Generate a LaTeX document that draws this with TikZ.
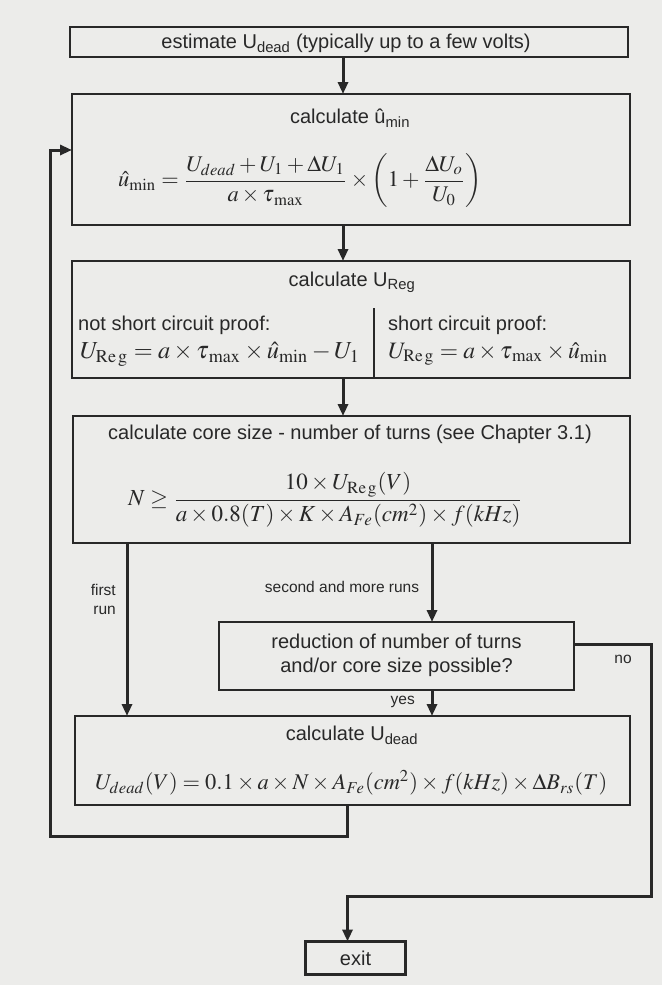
\documentclass[tikz,border=0pt]{standalone}
\usepackage{mathptmx}
\usepackage[no-math]{fontspec}
\setmainfont{Liberation Sans}
\usepackage{graphicx}
\usetikzlibrary{arrows.meta}
\definecolor{ink}{RGB}{40,40,40}
\definecolor{paper}{RGB}{236,236,234}
\tikzset{
  box/.style={draw=ink, line width=2.7pt, inner sep=0pt, outer sep=0pt},
  ttl/.style={font=\fontsize{20}{24}\selectfont, text=ink, inner sep=0pt},
  sml/.style={font=\fontsize{15.5}{19}\selectfont, text=ink, inner sep=0pt},
  frm/.style={text=ink, inner sep=0pt},
  arr/.style={draw=ink, line width=3pt, -{Triangle[length=12pt,width=10pt]}},
}
\begin{document}
\begin{tikzpicture}[x=1pt,y=-1pt]
\fill[paper] (0,0) rectangle (662,985);
\useasboundingbox (0,0) rectangle (662,985);
% boxes
\node[box, minimum width=558pt, minimum height=30pt] (b1) at (349,42) {};
\node[box, minimum width=558pt, minimum height=131pt] (b2) at (351,159.5) {};
\node[box, minimum width=558pt, minimum height=117pt] (b3) at (351,319.5) {};
\node[box, minimum width=557pt, minimum height=127pt] (b4) at (351.5,479.5) {};
\node[box, minimum width=355pt, minimum height=68pt] (b5) at (396.5,656) {};
\node[box, minimum width=555pt, minimum height=89pt] (b6) at (352.5,760.5) {};
\node[box, minimum width=100pt, minimum height=33pt] (ex) at (355.5,958) {};
% texts
\node[ttl] (t1) at (346,43) {estimate U\textsubscript{dead} (typically up to a few volts)};
\node[ttl] (t2) at (350,118) {calculate û\textsubscript{min}};
\node[frm, anchor=west] (f2) at (118,181) {\resizebox{364pt}{!}{$\displaystyle \hat{u}_{\mathrm{min}} = \frac{U_{dead}+U_1+\Delta U_1}{a\times\tau_{\,\mathrm{max}}}\times\left(1+\frac{\Delta U_o}{U_0}\right)$}};
\node[ttl] (t3) at (352,282) {calculate U\textsubscript{Reg}};
\node[ttl, anchor=west] (t3a) at (78,325) {not short circuit proof:};
\node[frm, anchor=west] (f3a) at (80,354) {\resizebox{280pt}{!}{$U_{\mathrm{Re\,g}} = a\times\tau_{\,\mathrm{max}}\times\hat{u}_{\mathrm{min}} - U_1$}};
\node[ttl, anchor=west] (t3b) at (388,325) {short circuit proof:};
\node[frm, anchor=west] (f3b) at (388,354) {\resizebox{220pt}{!}{$U_{\mathrm{Re\,g}} = a\times\tau_{\,\mathrm{max}}\times\hat{u}_{\mathrm{min}}$}};
\node[ttl] (t4) at (350,434) {calculate core size - number of turns (see Chapter 3.1)};
\node[frm, anchor=west] (f4) at (128,500) {\resizebox{395pt}{!}{$\displaystyle N \geq \frac{10\times U_{\mathrm{Re\,g}}(V)}{a\times 0.8(T)\times K\times A_{Fe}(cm^2)\times f(kHz)}$}};
\node[ttl, align=center] (t5) at (396.5,655) {reduction of number of turns\\and/or core size possible?};
\node[ttl] (t6) at (352,735) {calculate U\textsubscript{dead}};
\node[frm, anchor=west] (f6) at (95,783) {\resizebox{512pt}{!}{$U_{dead}(V) = 0.1\times a\times N\times A_{Fe}(cm^2)\times f(kHz)\times\Delta B_{rs}(T)$}};
\node[ttl] (tx) at (355.5,958) {exit};
% labels
\node[sml, align=right, anchor=east] (lf) at (116,599) {first\\run};
\node[sml] (ls) at (342,587) {second and more runs};
\node[sml, anchor=east] (ly) at (415,702) {yes};
\node[sml] (ln) at (623,659) {no};
% divider
\coordinate (dv) at (374,308);
\draw[draw=ink, line width=1.8pt] (dv) -- (b3.south -| dv);
% connectors
\coordinate (mx) at (343,0);
\coordinate (fx) at (127,0);
\coordinate (sx) at (432,0);
\draw[arr] (b1.south -| mx) -- (b2.north -| mx);
\draw[arr] (b2.south -| mx) -- (b3.north -| mx);
\draw[arr] (b3.south -| mx) -- (b4.north -| mx);
\draw[arr] (b4.south -| fx) -- (b6.north -| fx);
\draw[arr] (b4.south -| sx) -- (b5.north -| sx);
\draw[arr] (b5.south -| sx) -- (b6.north -| sx);
\coordinate (noR) at (651,896);
\draw[arr] ([yshift=12pt]b5.east) -| (noR) -| ([xshift=-8pt]ex.north);
\coordinate (loopBL) at (50,836);
\draw[arr] ([xshift=-5pt]b6.south) |- (loopBL) |- ([yshift=9.5pt]b2.west);
\end{tikzpicture}
\end{document}
